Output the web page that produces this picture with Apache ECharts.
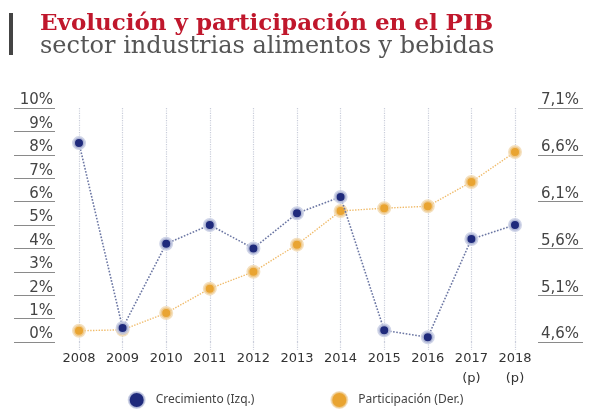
<!DOCTYPE html>
<html>
<head>
<meta charset="utf-8">
<script src="https://cdn.jsdelivr.net/npm/echarts@6/dist/echarts.min.js"></script>
<style>
  html, body { margin: 0; padding: 0; background: #ffffff; }
  #chart { width: 591px; height: 411px; }
</style>
</head>
<body>
<div id="chart"></div>
<script>
// ---- data ----
const categories = ['2008', '2009', '2010', '2011', '2012', '2013', '2014', '2015', '2016', '2017\n(p)', '2018\n(p)'];
const crecimiento = [8.5, 0.6, 4.2, 5.0, 4.0, 5.5, 6.2, 0.5, 0.2, 4.4, 5.0];      // left axis, %
const participacion = [4.72, 4.73, 4.91, 5.17, 5.35, 5.64, 6.0, 6.03, 6.05, 6.31, 6.63]; // right axis, %
const leftTicks = [0, 1, 2, 3, 4, 5, 6, 7, 8, 9, 10];
const rightTicks = [4.6, 5.1, 5.6, 6.1, 6.6, 7.1];
const titleText = 'Evolución y participación en el PIB';
const subtitleText = 'sector industrias alimentos y bebidas';
const seriesNames = ['Crecimiento (Izq.)', 'Participación (Der.)'];

const BLUE = '#1f2a7c';
const ORANGE = '#e9a431';
const GRID = '#c9cdda';

const chart = echarts.init(document.getElementById('chart'), null, { renderer: 'canvas' });
chart.setOption({
  backgroundColor: '#ffffff',
  animation: false,
  graphic: [{
    type: 'rect', left: 9, top: 13,
    shape: { width: 4, height: 42 },
    style: { fill: '#444444' }
  }],
  title: [{
    text: titleText, left: 40, top: 13, padding: 0,
    textStyle: { fontFamily: 'DejaVu Serif', fontWeight: 'bold', fontSize: 23, color: '#c0172c' }
  }, {
    text: subtitleText, left: 40, top: 35, padding: 0,
    textStyle: { fontFamily: 'DejaVu Serif', fontWeight: 'normal', fontSize: 24, color: '#555555' }
  }],
  legend: {
    bottom: -3, left: 'center',
    itemWidth: 16, itemHeight: 16, itemGap: 76,
    icon: 'circle',
    data: [seriesNames[0], seriesNames[1]],
    textStyle: { fontFamily: 'Noto Sans', fontSize: 12, color: '#444444', padding: [0, 0, 0, 6] }
  },
  grid: { left: 79, right: 76, top: 108, bottom: 69, containLabel: false },
  xAxis: {
    type: 'category', boundaryGap: false, data: categories,
    axisLine: { show: false },
    axisTick: { show: true, length: 8, lineStyle: { type: 'dotted', color: GRID, width: 1.2 } },
    splitLine: { show: true, lineStyle: { type: 'dotted', color: GRID, width: 1.2 } },
    axisLabel: { interval: 0, margin: 7, fontFamily: 'DejaVu Sans', fontSize: 13, lineHeight: 20, color: '#333333' }
  },
  yAxis: [{
    type: 'value', position: 'left', min: 0, max: 10, interval: 1, offset: 24,
    axisLine: { show: false },
    axisTick: { show: true, inside: false, length: 41, customValues: leftTicks, lineStyle: { color: '#8a8a8a', width: 1 } },
    splitLine: { show: false },
    axisLabel: {
      customValues: leftTicks, margin: 2, align: 'right', verticalAlign: 'bottom',
      formatter: v => v + '%',
      fontFamily: 'DejaVu Sans', fontSize: 15, color: '#444444'
    }
  }, {
    type: 'value', position: 'right', min: 4.6, max: 7.1, offset: 23,
    axisLine: { show: false },
    axisTick: { show: true, inside: false, length: 45, customValues: rightTicks, lineStyle: { color: '#8a8a8a', width: 1 } },
    splitLine: { show: false },
    axisLabel: {
      customValues: rightTicks, margin: 3, align: 'left', verticalAlign: 'bottom',
      formatter: v => v.toFixed(1).replace('.', ',') + '%',
      fontFamily: 'DejaVu Sans', fontSize: 15, color: '#444444'
    }
  }],
  series: [{
    name: seriesNames[1], type: 'line', yAxisIndex: 1, data: participacion,
    symbol: 'circle', symbolSize: 11,
    lineStyle: { type: 'dotted', color: '#f0bb6a', width: 1.4 },
    itemStyle: { color: ORANGE, borderColor: 'rgba(240,214,170,0.75)', borderWidth: 3 },
    z: 2
  }, {
    name: seriesNames[0], type: 'line', yAxisIndex: 0, data: crecimiento,
    symbol: 'circle', symbolSize: 11,
    lineStyle: { type: 'dotted', color: '#6b76a3', width: 1.6 },
    itemStyle: { color: BLUE, borderColor: 'rgba(200,206,228,0.85)', borderWidth: 3 },
    z: 3
  }]
});
</script>
</body>
</html>
